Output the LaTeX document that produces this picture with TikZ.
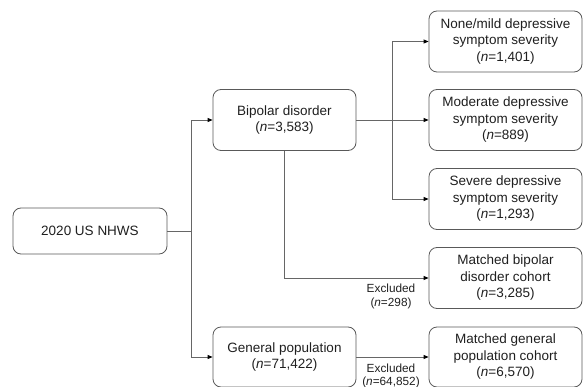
\documentclass[tikz,border=0pt]{standalone}
\usepackage{fontspec}
\setmainfont{Liberation Sans}
\usetikzlibrary{arrows.meta}
\begin{document}
\begin{tikzpicture}[x=1pt,y=-1pt,
  box/.style={draw=black!65, line width=0.8pt, rounded corners=8pt, align=center,
    text=black!88, font=\fontsize{13.5}{16.5}\selectfont, inner sep=0pt},
  conn/.style={draw=black!60, line width=0.8pt},
  arr/.style={conn, -{Triangle[length=5pt,width=4pt,fill=black,color=black]}},
  excl/.style={align=center, text=black!88, font=\fontsize{11.8}{13.5}\selectfont, inner sep=0pt}]
\useasboundingbox (0,0) rectangle (583,387);
\node[box, minimum width=154pt, minimum height=46pt] (nhws) at (90,231) {2020 US NHWS};
\node[box, minimum width=143pt, minimum height=61pt] (bip) at (284.5,120) {Bipolar disorder\\(\textit{n}=3,583)};
\node[box, minimum width=143pt, minimum height=60pt] (gen) at (284.5,357) {General population\\(\textit{n}=71,422)};
\node[box, minimum width=153pt, minimum height=61pt] (r1) at (505.5,41.5) {None/mild depressive\\symptom severity\\(\textit{n}=1,401)};
\node[box, minimum width=153pt, minimum height=61pt] (r2) at (505.5,120) {Moderate depressive\\symptom severity\\(\textit{n}=889)};
\node[box, minimum width=153pt, minimum height=61pt] (r3) at (505.5,199) {Severe depressive\\symptom severity\\(\textit{n}=1,293)};
\node[box, minimum width=153pt, minimum height=61pt] (r4) at (505.5,278) {Matched bipolar\\disorder cohort\\(\textit{n}=3,285)};
\node[box, minimum width=153pt, minimum height=60pt] (r5) at (505.5,357) {Matched general\\population cohort\\(\textit{n}=6,570)};
\coordinate (trunk) at (191,231);
\coordinate (branch) at (392,120);
\draw[conn] (nhws.east) -- (trunk);
\draw[arr] (trunk) |- (bip.west);
\draw[arr] (trunk) |- (gen.west);
\draw[arr] (bip.east) -- (r2.west);
\draw[arr] (branch) |- (r1.west);
\draw[arr] (branch) |- (r3.west);
\draw[arr] (bip.south) |- (r4.west);
\draw[arr] (gen.east) -- (r5.west);
\node[excl] (ex1) at (391,296.5) {Excluded\\(\textit{n}=298)};
\node[excl] (ex2) at (391,376) {Excluded\\(\textit{n}=64,852)};
\end{tikzpicture}
\end{document}
